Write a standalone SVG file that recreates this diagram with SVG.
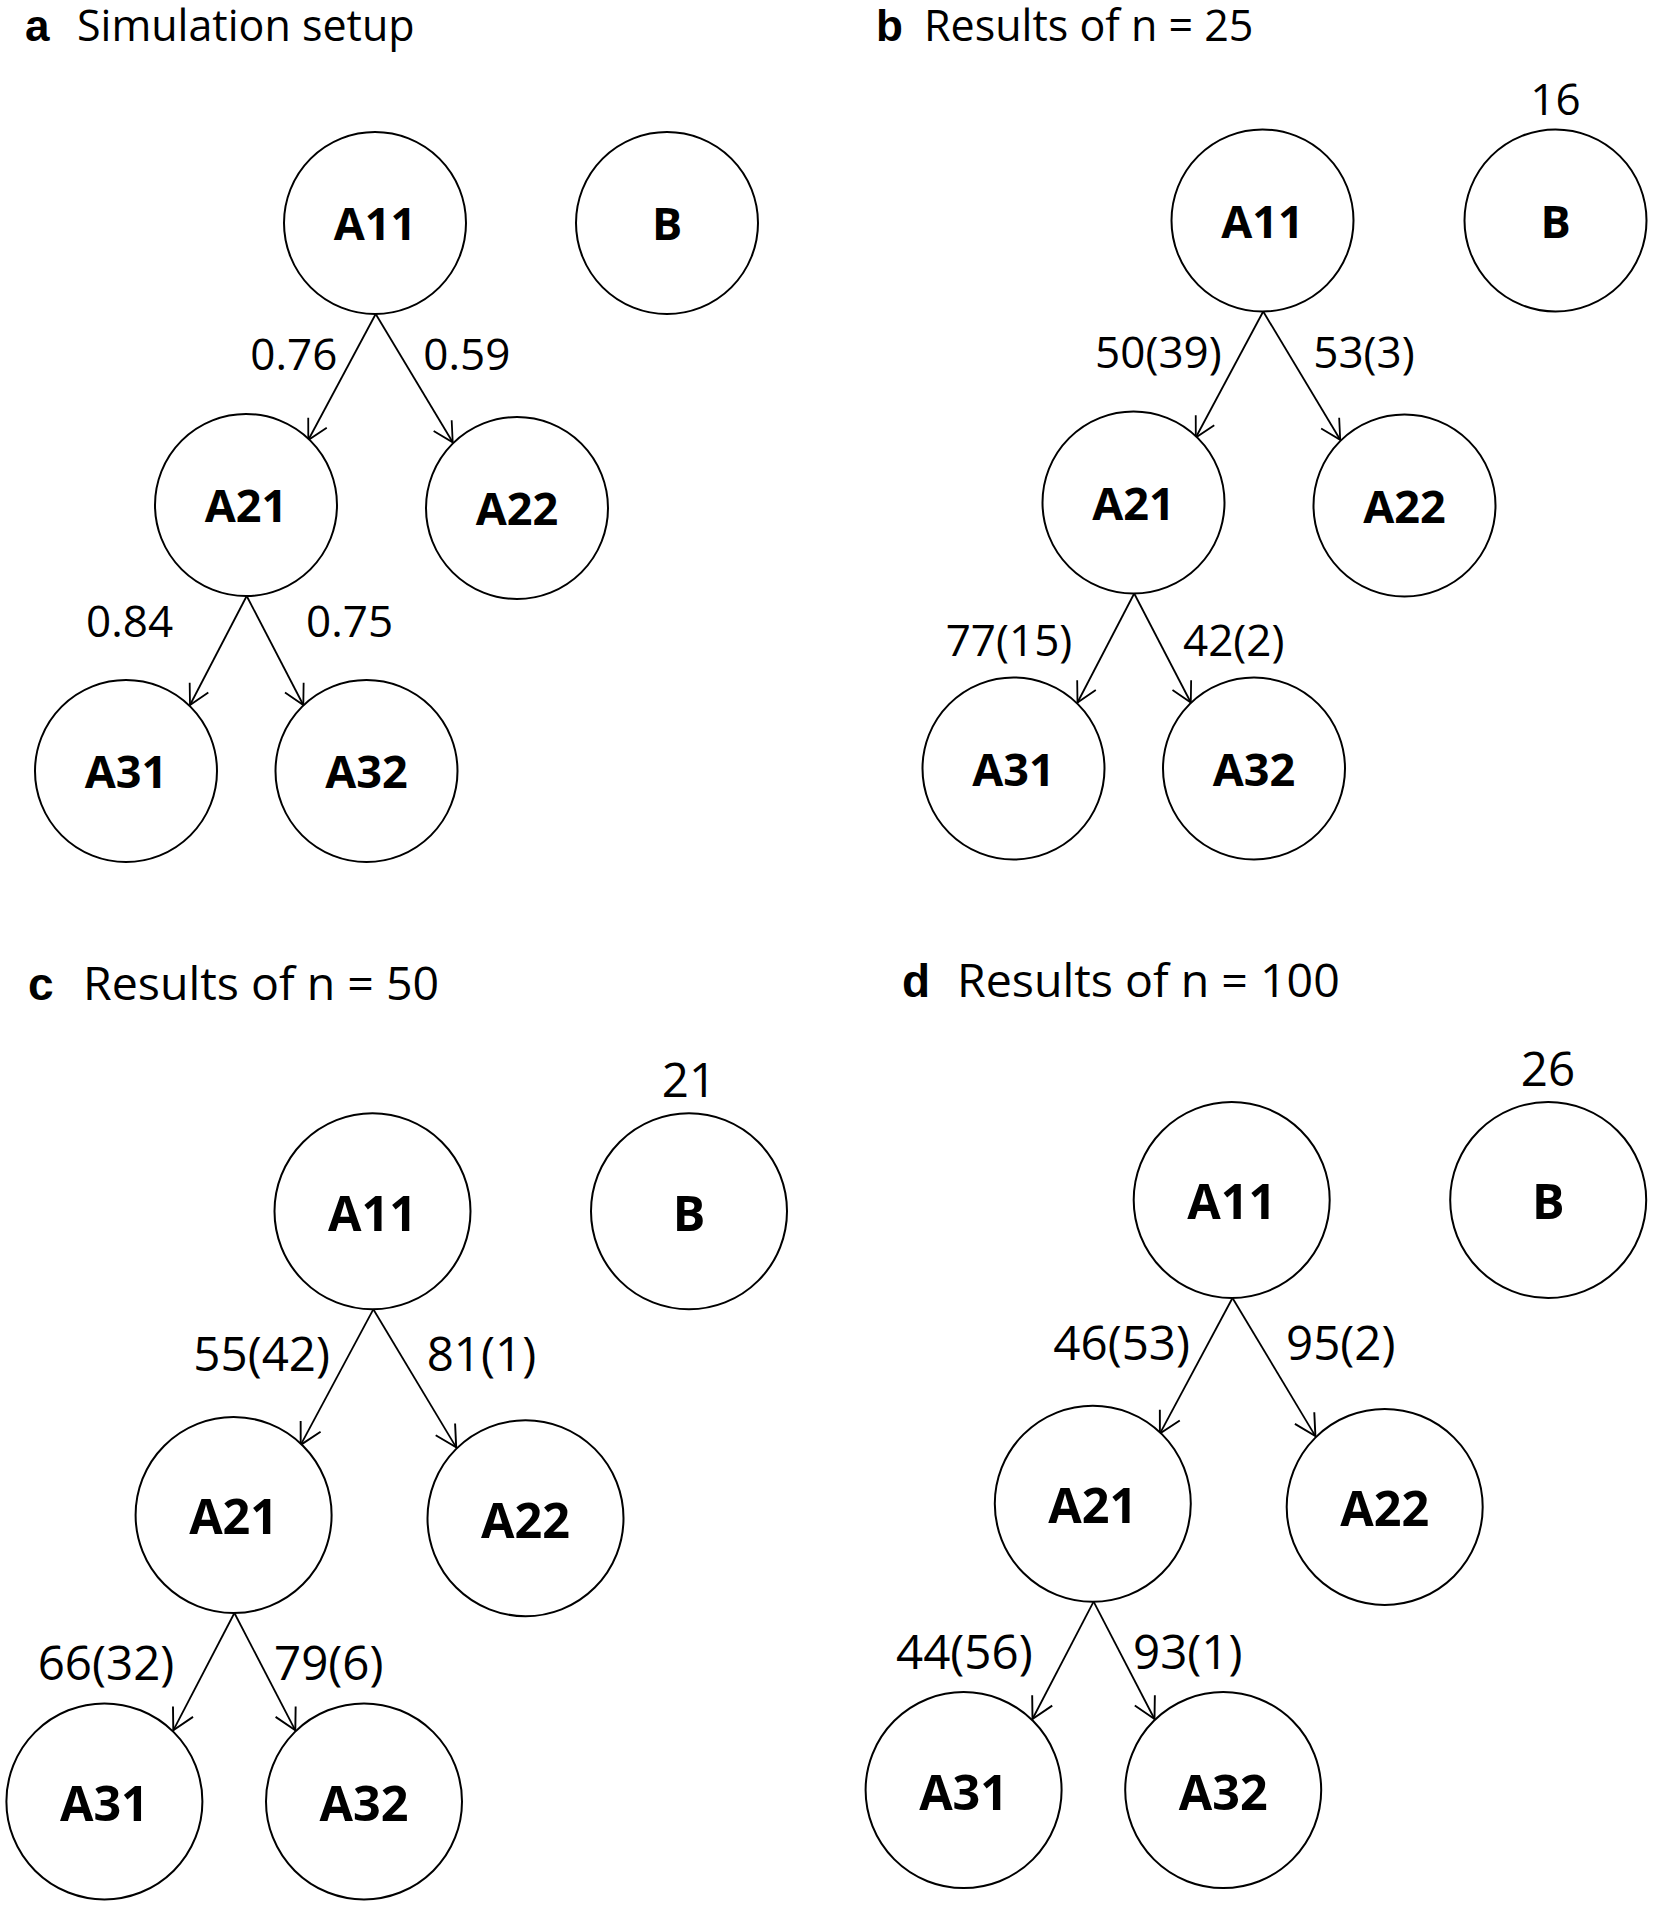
<svg xmlns="http://www.w3.org/2000/svg" width="1654" height="1908" viewBox="0 0 1654 1908">
<style>
  .bg{fill:#fff}
  .node circle{fill:#fff;stroke:#000;stroke-width:2}
  .nl{font-family:"Open Sans","Liberation Sans",sans-serif;font-weight:bold;text-anchor:middle;fill:#000}
  .n1{font-size:45px}
  .n2{font-size:48.5px}
  .el{font-family:"Open Sans","Liberation Sans",sans-serif;fill:#000}
  .e1{font-size:44px}
  .e2{font-size:47.5px}
  .end{text-anchor:end}
  .mid{text-anchor:middle}
  .tl{font-family:"Liberation Sans",Arial,sans-serif;font-weight:bold;fill:#000}
  .tt{font-family:"Open Sans","Liberation Sans",sans-serif;fill:#000}
  .edge{stroke:#000;stroke-width:1.8;fill:none}
  .m1{marker-end:url(#arr1)}
  .m2{marker-end:url(#arr2)}
</style>
<defs>
  <marker id="arr1" viewBox="-25 -15 30 30" refX="0" refY="0" markerWidth="30" markerHeight="30" markerUnits="userSpaceOnUse" orient="auto" overflow="visible">
    <path d="M-19.5,-10.5 L0,0 L-19.5,10.5" fill="none" stroke="#000" stroke-width="1.8"/>
  </marker>
  <marker id="arr2" viewBox="-25 -15 30 30" refX="0" refY="0" markerWidth="30" markerHeight="30" markerUnits="userSpaceOnUse" orient="auto" overflow="visible">
    <path d="M-21,-11.3 L0,0 L-21,11.3" fill="none" stroke="#000" stroke-width="1.9"/>
  </marker>
</defs>
<rect class="bg" x="0" y="0" width="1654" height="1908"/>

<g id="titles">
  <text class="tl" x="25" y="41" font-size="44">a</text>
  <text class="tt" x="77" y="41" font-size="43">Simulation setup</text>
  <text class="tl" x="876" y="41" font-size="44">b</text>
  <text class="tt" x="924" y="41" font-size="43">Results of n = 25</text>
  <text class="tl" x="28" y="1000" font-size="46">c</text>
  <text class="tt" x="83" y="1000" font-size="46.5">Results of n = 50</text>
  <text class="tl" x="902" y="997" font-size="46">d</text>
  <text class="tt" x="957" y="997" font-size="46.5">Results of n = 100</text>
</g>

<g id="connectors">
  <!-- panel a -->
  <line class="edge m1" x1="375.7" y1="314" x2="308.3" y2="440"/>
  <line class="edge m1" x1="375.7" y1="314" x2="452.7" y2="442.3"/>
  <line class="edge m1" x1="246.7" y1="596" x2="190" y2="705"/>
  <line class="edge m1" x1="246.7" y1="596" x2="303.3" y2="705"/>
  <!-- panel b -->
  <line class="edge m1" x1="1263.2" y1="311.5" x2="1195.8" y2="437.5"/>
  <line class="edge m1" x1="1263.2" y1="311.5" x2="1340.2" y2="439.8"/>
  <line class="edge m1" x1="1134.2" y1="593.5" x2="1077.5" y2="702.5"/>
  <line class="edge m1" x1="1134.2" y1="593.5" x2="1190.8" y2="702.5"/>
  <!-- panel c -->
  <line class="edge m2" x1="373.3" y1="1309.3" x2="300.7" y2="1444.9"/>
  <line class="edge m2" x1="373.3" y1="1309.3" x2="456.2" y2="1447.4"/>
  <line class="edge m2" x1="234.4" y1="1613" x2="173.3" y2="1730.3"/>
  <line class="edge m2" x1="234.4" y1="1613" x2="295.3" y2="1730.3"/>
  <!-- panel d -->
  <line class="edge m2" x1="1232.5" y1="1298" x2="1159.9" y2="1433.6"/>
  <line class="edge m2" x1="1232.5" y1="1298" x2="1315.4" y2="1436.1"/>
  <line class="edge m2" x1="1093.6" y1="1601.7" x2="1032.5" y2="1719"/>
  <line class="edge m2" x1="1093.6" y1="1601.7" x2="1154.5" y2="1719"/>
</g>

<g id="edge-labels">
  <text class="el e1 end" x="337.3" y="370">0.76</text>
  <text class="el e1" x="423.3" y="370">0.59</text>
  <text class="el e1" x="86" y="636.7">0.84</text>
  <text class="el e1" x="306" y="636.7">0.75</text>

  <text class="el e1 end" x="1221.7" y="368">50(39)</text>
  <text class="el e1" x="1313.3" y="368">53(3)</text>
  <text class="el e1" x="945.7" y="656">77(15)</text>
  <text class="el e1" x="1183" y="656">42(2)</text>
  <text class="el e1 mid" x="1555.5" y="115">16</text>

  <text class="el e2 end" x="330" y="1370.7">55(42)</text>
  <text class="el e2" x="426.7" y="1370.7">81(1)</text>
  <text class="el e2" x="37.7" y="1679.5">66(32)</text>
  <text class="el e2" x="274" y="1679.5">79(6)</text>
  <text class="el e2 mid" x="689" y="1097">21</text>

  <text class="el e2 end" x="1190" y="1359.5">46(53)</text>
  <text class="el e2" x="1286" y="1359.5">95(2)</text>
  <text class="el e2" x="896" y="1668.5">44(56)</text>
  <text class="el e2" x="1133" y="1668.5">93(1)</text>
  <text class="el e2 mid" x="1548" y="1086">26</text>
</g>

<!-- panel a nodes -->
<g id="a-A11" class="node"><circle cx="375" cy="223" r="91"/><text class="nl n1" x="375" y="240">A11</text></g>
<g id="a-B" class="node"><circle cx="667" cy="223" r="91"/><text class="nl n1" x="667" y="240">B</text></g>
<g id="a-A21" class="node"><circle cx="246" cy="505" r="91"/><text class="nl n1" x="246" y="522">A21</text></g>
<g id="a-A22" class="node"><circle cx="517" cy="508" r="91"/><text class="nl n1" x="517" y="525">A22</text></g>
<g id="a-A31" class="node"><circle cx="126" cy="771" r="91"/><text class="nl n1" x="126" y="788">A31</text></g>
<g id="a-A32" class="node"><circle cx="366.5" cy="771" r="91"/><text class="nl n1" x="366.5" y="788">A32</text></g>

<!-- panel b nodes -->
<g id="b-A11" class="node"><circle cx="1262.5" cy="220.5" r="91"/><text class="nl n1" x="1262.5" y="237.5">A11</text></g>
<g id="b-B" class="node"><circle cx="1555.5" cy="220.5" r="91"/><text class="nl n1" x="1555.5" y="237.5">B</text></g>
<g id="b-A21" class="node"><circle cx="1133.5" cy="502.5" r="91"/><text class="nl n1" x="1133.5" y="519.5">A21</text></g>
<g id="b-A22" class="node"><circle cx="1404.5" cy="505.5" r="91"/><text class="nl n1" x="1404.5" y="522.5">A22</text></g>
<g id="b-A31" class="node"><circle cx="1013.5" cy="768.5" r="91"/><text class="nl n1" x="1013.5" y="785.5">A31</text></g>
<g id="b-A32" class="node"><circle cx="1254" cy="768.5" r="91"/><text class="nl n1" x="1254" y="785.5">A32</text></g>

<!-- panel c nodes -->
<g id="c-A11" class="node"><circle cx="372.5" cy="1211.3" r="98"/><text class="nl n2" x="372.5" y="1230.7">A11</text></g>
<g id="c-B" class="node"><circle cx="689" cy="1211.3" r="98"/><text class="nl n2" x="689" y="1230.7">B</text></g>
<g id="c-A21" class="node"><circle cx="233.6" cy="1515" r="98"/><text class="nl n2" x="233.6" y="1534.4">A21</text></g>
<g id="c-A22" class="node"><circle cx="525.5" cy="1518.2" r="98"/><text class="nl n2" x="525.5" y="1537.6">A22</text></g>
<g id="c-A31" class="node"><circle cx="104.4" cy="1801.4" r="98"/><text class="nl n2" x="104.4" y="1820.8">A31</text></g>
<g id="c-A32" class="node"><circle cx="364" cy="1801.4" r="98"/><text class="nl n2" x="364" y="1820.8">A32</text></g>

<!-- panel d nodes -->
<g id="d-A11" class="node"><circle cx="1231.7" cy="1200" r="98"/><text class="nl n2" x="1231.7" y="1219.4">A11</text></g>
<g id="d-B" class="node"><circle cx="1548.2" cy="1200" r="98"/><text class="nl n2" x="1548.2" y="1219.4">B</text></g>
<g id="d-A21" class="node"><circle cx="1092.8" cy="1503.7" r="98"/><text class="nl n2" x="1092.8" y="1523.1">A21</text></g>
<g id="d-A22" class="node"><circle cx="1384.7" cy="1506.9" r="98"/><text class="nl n2" x="1384.7" y="1526.3">A22</text></g>
<g id="d-A31" class="node"><circle cx="963.6" cy="1790.1" r="98"/><text class="nl n2" x="963.6" y="1809.5">A31</text></g>
<g id="d-A32" class="node"><circle cx="1223.2" cy="1790.1" r="98"/><text class="nl n2" x="1223.2" y="1809.5">A32</text></g>
</svg>
